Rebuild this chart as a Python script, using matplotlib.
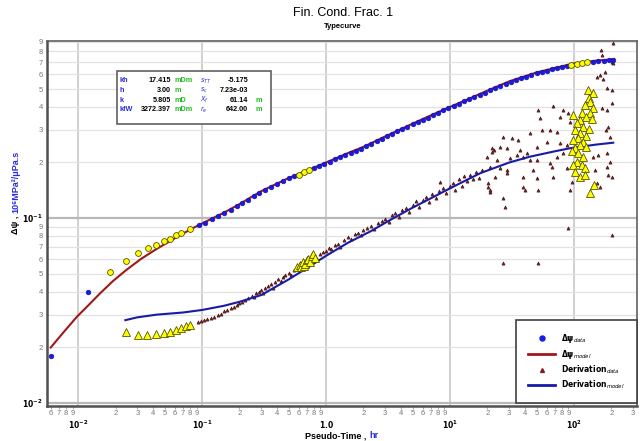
#!/usr/bin/env python3

# Cargamos las librerias necesarias
import matplotlib
matplotlib.use("Agg")
import matplotlib.pyplot as plt
from matplotlib.ticker import FixedLocator, FuncFormatter
from matplotlib.lines import Line2D
from matplotlib.patches import Rectangle

plt.rcParams["font.family"] = ["Liberation Sans Narrow", "Liberation Sans", "DejaVu Sans"]

# Datos de presion (Delta psi) - puntos medidos usados (azul)
dpsi_t = [0.0060, 0.0121, 0.094, 0.106, 0.12, 0.135, 0.15, 0.17, 0.19, 0.21, 0.235, 0.26,
          0.29, 0.32, 0.36, 0.40, 0.45, 0.50, 0.55, 0.80, 0.88, 0.97, 1.07, 1.18, 1.3, 1.43,
          1.58, 1.74, 1.92, 2.1, 2.3, 2.55, 2.8, 3.1, 3.4, 3.75, 4.1, 4.5, 5.0, 5.5, 6.0, 6.6,
          7.3, 8.0, 8.8, 9.7, 10.7, 11.8, 13.0, 14.3, 15.7, 17.3, 19, 21, 23, 25.5, 28, 31,
          34, 37.5, 41, 45, 50, 55, 60, 66, 73, 80, 88, 143, 157, 173, 190, 207]
dpsi_v = [0.0179, 0.0399, 0.0913, 0.0944, 0.099, 0.103, 0.106, 0.111, 0.116, 0.121, 0.126, 0.131,
          0.137, 0.142, 0.148, 0.153, 0.159, 0.164, 0.168, 0.186, 0.191, 0.196, 0.202, 0.208, 0.214, 0.220,
          0.226, 0.232, 0.238, 0.245, 0.252, 0.260, 0.268, 0.278, 0.286, 0.295, 0.303, 0.311, 0.322, 0.331, 0.340, 0.350,
          0.362, 0.372, 0.383, 0.394, 0.405, 0.417, 0.428, 0.439, 0.452, 0.465, 0.478, 0.493, 0.506, 0.520, 0.534, 0.549,
          0.560, 0.572, 0.583, 0.595, 0.609, 0.619, 0.628, 0.638, 0.648, 0.658, 0.668, 0.702, 0.707, 0.711, 0.714, 0.718]

# Puntos de presion excluidos (amarillo)
dpsi_ex_t = [0.0181, 0.0243, 0.0305, 0.0365, 0.0428, 0.0491, 0.0552, 0.0614, 0.068, 0.080,
             0.60, 0.66, 0.73, 95, 105, 116, 128]
dpsi_ex_v = [0.0509, 0.0587, 0.0644, 0.0686, 0.0711, 0.0750, 0.0772, 0.0806, 0.0826, 0.0868,
             0.172, 0.177, 0.182, 0.675, 0.683, 0.690, 0.696]

# Modelo de presion
model_t = [0.006, 0.0075, 0.00975, 0.0125, 0.015, 0.019, 0.0243, 0.032, 0.0431, 0.055, 0.0665,
           0.085, 0.109, 0.15, 0.2, 0.3, 0.5, 0.7, 1.0, 1.5, 2, 3, 5, 7, 10, 15, 20, 30, 50,
           70, 100, 150, 210]
model_v = [0.0199, 0.0238, 0.0292, 0.0345, 0.0391, 0.0455, 0.0522, 0.060, 0.0682, 0.0750, 0.0809,
           0.0885, 0.0963, 0.107, 0.119, 0.140, 0.165, 0.181, 0.200, 0.225, 0.243, 0.277, 0.325, 0.360,
           0.400, 0.450, 0.490, 0.550, 0.615, 0.650, 0.688, 0.712, 0.725]

# Derivada medida (triangulos rojo oscuro)
der_t = [0.092, 0.098, 0.104, 0.11, 0.118, 0.125, 0.133, 0.142, 0.15, 0.16, 0.17, 0.18, 0.19, 0.2,
         0.21, 0.22, 0.235, 0.25, 0.26, 0.27, 0.285, 0.30, 0.31, 0.32, 0.34, 0.36, 0.37, 0.39, 0.41,
         0.43, 0.45, 0.47, 0.50, 0.52, 0.55, 0.58, 0.61, 0.64, 0.68, 0.72, 0.76, 0.80, 0.85, 0.90,
         0.95, 1.0, 1.05, 1.1, 1.17, 1.25, 1.3, 1.4, 1.5, 1.6, 1.7, 1.8, 1.9, 2.0, 2.15, 2.3, 2.45,
         2.6, 2.8, 3.0, 3.2, 3.4, 3.6, 3.9, 4.1, 4.4, 4.7, 5.0, 5.3, 5.6, 6.0, 6.4, 6.8, 7.2, 7.7,
         8.2, 8.3, 8.8, 9.3, 9.9, 10.5, 11.0, 11.7, 12.4, 13.0, 13.8, 14.5, 15.3, 16.2, 17.0,
         20.4, 21.0, 21.7, 21.7,
         207, 164, 167, 201, 207, 178, 162, 171, 154, 183, 201, 201, 183, 167, 51.5, 68.1, 82.0,
         90.0, 53.2, 77.1, 92.8, 26.9, 31.4, 35.6, 44.2, 54.8, 64.1, 72.5, 22.4, 25.3, 28.6, 36.7,
         41.5, 50.0, 60.2, 77.1, 87.3, 19.8, 23.8, 30.5, 34.5, 39.0, 44.2, 50.0, 64.1, 72.5, 82.0,
         18.0, 21.0, 25.3, 28.6, 39.0, 47.0, 66.1, 87.3, 143, 157, 183, 195, 201, 20.4, 23.1, 28.6,
         39.0, 50.0, 68.1, 95.7, 148, 162, 189, 21.0, 40.3, 51.5, 92.8, 26.9, 27.8, 152, 183, 90.0,
         201, 26.9, 51.5, 189, 195, 181]
der_v = [0.0272, 0.0276, 0.0279, 0.0284, 0.0288, 0.0293, 0.0298, 0.0303, 0.0312, 0.0316, 0.0325,
         0.0330, 0.0338, 0.0345, 0.0350, 0.0362, 0.0368, 0.0380, 0.0372, 0.0392, 0.0398, 0.0408,
         0.0392, 0.0420, 0.0428, 0.0440, 0.0418, 0.0452, 0.0468, 0.0455, 0.0482, 0.0492, 0.0505,
         0.0490, 0.0525, 0.0540, 0.0530, 0.0560, 0.0575, 0.0560, 0.0595, 0.0610, 0.0600, 0.0640,
         0.0655, 0.0665, 0.0690, 0.0680, 0.0715, 0.0728, 0.0700, 0.0760, 0.0785, 0.0770, 0.0815,
         0.0830, 0.0810, 0.0860, 0.0880, 0.0905, 0.0875, 0.0935, 0.0960, 0.0990, 0.0955, 0.1040,
         0.1060, 0.1010, 0.1100, 0.1130, 0.1080, 0.1180, 0.1230, 0.1150, 0.1260, 0.1300, 0.1220,
         0.1350, 0.1280, 0.1400, 0.1570, 0.1450, 0.1360, 0.1500, 0.1550, 0.1420, 0.1620, 0.1500,
         0.1680, 0.1580, 0.1720, 0.1620, 0.1780, 0.1650,
         0.148, 0.139, 0.239, 0.229,
         0.892, 0.814, 0.765, 0.704, 0.689, 0.621, 0.596, 0.565, 0.584, 0.504, 0.494, 0.418, 0.385,
         0.393, 0.385, 0.405, 0.385, 0.369, 0.347, 0.354, 0.333, 0.276, 0.270, 0.265, 0.288, 0.300,
         0.300, 0.294, 0.234, 0.244, 0.239, 0.234, 0.224, 0.244, 0.259, 0.254, 0.249, 0.215, 0.206,
         0.211, 0.220, 0.215, 0.206, 0.206, 0.198, 0.215, 0.224, 0.182, 0.190, 0.186, 0.182, 0.167,
         0.182, 0.190, 0.186, 0.215, 0.220, 0.224, 0.202, 0.167, 0.154, 0.167, 0.175, 0.148, 0.164,
         0.167, 0.157, 0.182, 0.148, 0.171, 0.142, 0.142, 0.142, 0.142, 0.128, 0.115, 0.154, 0.190,
         0.0879, 0.0809, 0.0573, 0.0568, 0.313, 0.276, 0.300]

# Derivada excluida (triangulos amarillos)
der_ex_t = [0.0243, 0.0302, 0.0362, 0.0425, 0.049, 0.0552, 0.0614, 0.0677, 0.0741, 0.0802,
            0.58, 0.61, 0.63, 0.65, 0.66, 0.68, 0.70, 0.72, 0.74, 0.77, 0.79, 0.81,
            129, 141, 131, 135, 123, 143, 115, 135, 98.8, 126, 112, 139, 105, 119, 131, 102, 112,
            126, 108, 98.8, 119, 112, 102, 126, 95.7, 108, 119, 105, 98.8, 115, 123, 102, 112, 123,
            135, 145]
der_ex_v = [0.0242, 0.0233, 0.0233, 0.0235, 0.0239, 0.0243, 0.0249, 0.0255, 0.0260, 0.0265,
            0.0545, 0.0560, 0.0540, 0.0575, 0.0550, 0.0565, 0.0590, 0.0600, 0.0580, 0.0620, 0.0635, 0.0610,
            0.494, 0.478, 0.445, 0.427, 0.410, 0.393, 0.369, 0.369, 0.362, 0.351, 0.340, 0.343, 0.326,
            0.313, 0.302, 0.300, 0.288, 0.278, 0.270, 0.265, 0.259, 0.249, 0.239, 0.244, 0.232, 0.224,
            0.215, 0.202, 0.194, 0.194, 0.186, 0.178, 0.167, 0.171, 0.136, 0.151]

# Modelo de la derivada
der_model_t = [0.024, 0.03, 0.043, 0.07, 0.1, 0.15, 0.2, 0.3, 0.5, 0.7, 1.0, 1.5, 2.26, 3.5,
               5.0, 7.0, 10, 17.5, 30, 44, 70, 93, 150, 207]
der_model_v = [0.0280, 0.0290, 0.0300, 0.0308, 0.0318, 0.0335, 0.0352, 0.0383, 0.0466, 0.0536,
               0.0625, 0.0735, 0.0845, 0.100, 0.114, 0.128, 0.145, 0.175, 0.200, 0.215, 0.230,
               0.239, 0.250, 0.256]

# Tabla de parametros del ajuste
par_izq = [("kh", "17.415", "mDm"), ("h", "3.00", "m"), ("k", "5.805", "mD"), ("kfW", "3272.397", "mDm")]
par_der = [(r"$s_{TT}$", "-5.175", ""), (r"$s_{c}$", "7.23e-03", ""), (r"$X_{f}$", "61.14", "m"),
           (r"$r_{e}$", "642.00", "m")]

W, H = 642, 441

# Figura y ejes
fig = plt.figure(figsize=(W / 100, H / 100), dpi=100)
ax = fig.add_axes([47 / W, 1 - 406 / H, 590 / W, 365 / H])
ax.set_xscale("log")
ax.set_yscale("log")
ax.set_xlim(0.0056, 322)
ax.set_ylim(0.0096, 0.91)

# Rejilla
ax.xaxis.grid(True, which="major", color="#cfcfcf", lw=1.4)
ax.yaxis.grid(True, which="major", color="#b8b8b8", lw=1.6)
ax.yaxis.grid(True, which="minor", color="#e2e2e2", lw=0.9)
ax.set_axisbelow(True)

# Curvas y puntos
ax.plot(model_t, model_v, color="#a01818", lw=1.5, zorder=3)
ax.plot(dpsi_t, dpsi_v, "o", color="#1a1ae6", ms=3.4, mec="#1010a0", mew=0.4, zorder=4)
ax.plot(dpsi_ex_t, dpsi_ex_v, "o", color="#ffff00", ms=4.2, mec="#555500", mew=0.6, zorder=4)
ax.plot(der_t, der_v, "^", color="#8b1a1a", ms=2.3, mec="#301010", mew=0.4, zorder=3)
ax.plot(der_model_t, der_model_v, color="#1a1aa8", lw=1.5, zorder=4)
ax.plot(der_ex_t, der_ex_v, "^", color="#ffff00", ms=5.2, mec="#555500", mew=0.6, zorder=5)

# Marcas del eje x: digitos menores y decadas en negrita
minor_x = [m * 10 ** e for e in range(-3, 3) for m in range(2, 10)]
minor_x = [v for v in minor_x if 0.0056 <= v <= 322]
ax.xaxis.set_minor_locator(FixedLocator(minor_x))
ax.xaxis.set_minor_formatter(FuncFormatter(lambda v, p: "%d" % round(v / 10 ** int(f"{v:e}".split("e")[1]))))
ax.xaxis.set_major_locator(FixedLocator([0.01, 0.1, 1, 10, 100]))
ax.set_xticklabels([r"$\mathbf{10^{-2}}$", r"$\mathbf{10^{-1}}$", r"$\mathbf{1.0}$",
                    r"$\mathbf{10^{1}}$", r"$\mathbf{10^{2}}$"])
ax.tick_params(axis="x", which="minor", labelsize=5.5, labelcolor="#777777", length=2, pad=1,
               color="#999999")
ax.tick_params(axis="x", which="major", labelsize=5.5, length=0, pad=9)

# Marcas del eje y
minor_y = [m * 10 ** e for e in (-2, -1) for m in range(2, 10)]
ax.yaxis.set_minor_locator(FixedLocator(minor_y))
ax.yaxis.set_minor_formatter(FuncFormatter(lambda v, p: "%d" % round(v / 10 ** int(f"{v:e}".split("e")[1]))))
ax.yaxis.set_major_locator(FixedLocator([0.01, 0.1]))
ax.set_yticklabels([r"$\mathbf{10^{-2}}$", r"$\mathbf{10^{-1}}$"])
ax.tick_params(axis="y", which="minor", labelsize=5.5, labelcolor="#777777", length=0, pad=3)
ax.tick_params(axis="y", which="major", labelsize=5.5, length=0, pad=3)

# Bordes
for s in ["left", "bottom"]:
    ax.spines[s].set_linewidth(1.8)
    ax.spines[s].set_color("#505050")
for s in ["top", "right"]:
    ax.spines[s].set_linewidth(1.2)
    ax.spines[s].set_color("#606060")

# Titulos
fig.text(343 / W, 1 - 13 / H, "Fin. Cond. Frac. 1", ha="center", va="center", fontsize=9)
fig.text(343 / W, 1 - 26 / H, "Typecurve", ha="center", va="center", fontsize=5.5, fontweight="bold")

# Etiqueta del eje x (texto negro + unidad azul)
fig.canvas.draw()
r = fig.canvas.get_renderer()
fig.text(369 / W, 1 - 436 / H, "Pseudo-Time , ", ha="right", va="center", fontsize=6.5,
         fontweight="bold")
fig.text(369 / W, 1 - 436 / H, "hr", ha="left", va="center", fontsize=6.5, fontweight="bold",
         color="#2a2ae0")

# Etiqueta del eje y (texto negro + unidad azul), girada
yl = fig.text(16 / W, 1 - 234 / H, "Δψ , ", rotation=90, ha="center", va="bottom", fontsize=6.5,
              fontweight="bold")
bb = yl.get_window_extent(renderer=r)
fig.text(16 / W, bb.y1 / H, "10⁶MPa²/μPa.s", rotation=90, ha="center", va="bottom", fontsize=6.5,
         fontweight="bold", color="#2a2ae0")

# Cuadro de parametros
fig.add_artist(Rectangle((117 / W, 1 - 124 / H), 154 / W, 53 / H, transform=fig.transFigure,
                         facecolor="white", edgecolor="#606060", lw=1.2, zorder=6))
fs = 5.2
for i, (lab, val, uni) in enumerate(par_izq):
    y = 1 - (81 + 9.5 * i) / H
    fig.text(120 / W, y, lab, color="#2a2ae0", fontsize=fs, fontweight="bold", va="center", zorder=7)
    fig.text(171 / W, y, val, ha="right", fontsize=fs, fontweight="bold", va="center", zorder=7)
    fig.text(175 / W, y, uni, color="#22bb22", fontsize=fs, fontweight="bold", va="center", zorder=7)
for i, (lab, val, uni) in enumerate(par_der):
    y = 1 - (81 + 9.5 * i) / H
    fig.text(200 / W, y, lab, color="#2a2ae0", fontsize=4.8, fontweight="bold", va="center", zorder=7)
    fig.text(248 / W, y, val, ha="right", fontsize=fs, fontweight="bold", va="center", zorder=7)
    fig.text(255 / W, y, uni, color="#22bb22", fontsize=fs, fontweight="bold", va="center", zorder=7)

# Leyenda
handles = [
    Line2D([], [], ls="none", marker="o", color="#1a1ae6", ms=3.6),
    Line2D([], [], color="#a01818", lw=2),
    Line2D([], [], ls="none", marker="^", color="#8b1a1a", ms=2.8),
    Line2D([], [], color="#1a1aa8", lw=2),
]
labels = [r"$\mathbf{\Delta\psi}_{data}$", r"$\mathbf{\Delta\psi}_{model}$",
          r"$\mathbf{Derivation}_{data}$", r"$\mathbf{Derivation}_{model}$"]
leg = ax.legend(handles, labels, loc="lower right", bbox_to_anchor=(1.0, 0.008), borderaxespad=0,
                fontsize=5.5, handlelength=3.5, borderpad=1.6, labelspacing=0.35, fancybox=False,
                framealpha=1, edgecolor="#404040")
leg.get_frame().set_linewidth(1.2)
leg.set_zorder(8)

fig.savefig("out.png", dpi=100)
